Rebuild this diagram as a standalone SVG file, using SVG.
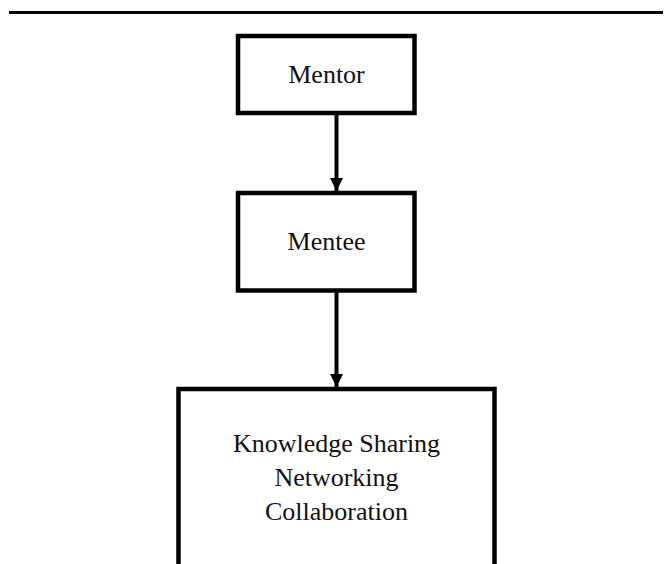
<svg xmlns="http://www.w3.org/2000/svg" width="666" height="564" viewBox="0 0 666 564">
<style>
.box{fill:#fff;stroke:#000;stroke-width:4.5}
.lbl{font-family:"Liberation Serif","Times New Roman",serif;font-size:26px;fill:#111;text-anchor:middle}
.conn{stroke:#000;stroke-width:4;fill:none}
</style>
<defs>
<marker id="arrow" markerUnits="userSpaceOnUse" markerWidth="14" markerHeight="13" refX="14" refY="7" orient="auto" viewBox="0 0 14 14">
<path d="M0,0 L14,7 L0,14 Z" fill="#000"/>
</marker>
</defs>
<rect width="666" height="564" fill="#fff"/>
<line x1="9" y1="12.5" x2="663" y2="12.5" stroke="#000" stroke-width="3"/>
<g id="connectors">
<line class="conn" x1="336.5" y1="115" x2="336.5" y2="191" marker-end="url(#arrow)"/>
<line class="conn" x1="336.5" y1="292" x2="336.5" y2="387" marker-end="url(#arrow)"/>
</g>
<g id="mentor">
<rect class="box" x="238" y="36" width="176.5" height="77"/>
<text class="lbl" x="326.5" y="83">Mentor</text>
</g>
<g id="mentee">
<rect class="box" x="238" y="193" width="176.5" height="97.5"/>
<text class="lbl" x="326.5" y="250">Mentee</text>
</g>
<g id="outcomes">
<rect class="box" x="178.5" y="389" width="316" height="190"/>
<text class="lbl" x="336.5" y="452">Knowledge Sharing</text>
<text class="lbl" x="336.5" y="486">Networking</text>
<text class="lbl" x="336.5" y="520">Collaboration</text>
</g>
</svg>
